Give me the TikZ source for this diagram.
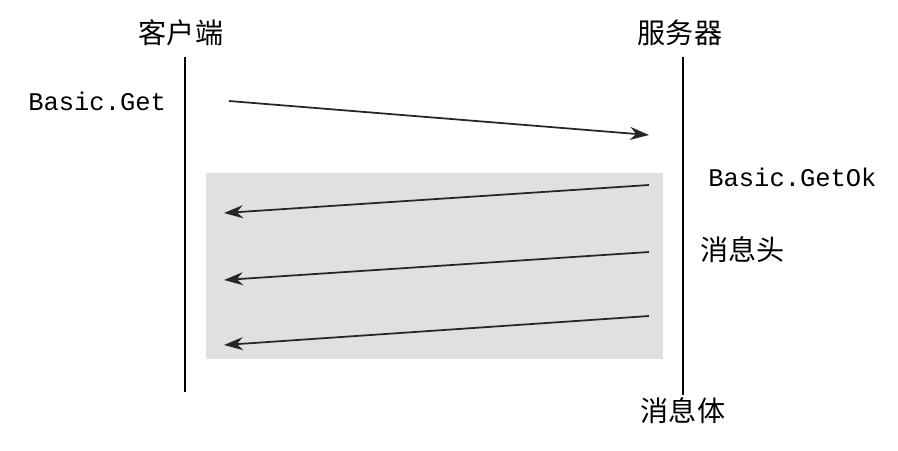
\documentclass[tikz,border=0pt]{standalone}
\usepackage{fontspec}
\setmonofont{Liberation Mono}
\newfontfamily\cjk{Noto Sans CJK SC}
\usepackage{tikz}
\usetikzlibrary{positioning, calc, arrows.meta}
\tikzset{>={Stealth[length=3.8mm, width=2.6mm]}}
\tikzset{msg/.style={->, line width=1pt, draw=black!85}}

\begin{document}
\begin{tikzpicture}
    [x=0.02cm, y=-0.02cm,
      party/.style={font=\cjk\fontsize{16}{18}\selectfont, inner sep=0pt},
      method/.style={font=\ttfamily\fontsize{14.5}{16}\selectfont, inner sep=0pt},
      lifeline/.style={line width=1pt}]

    \useasboundingbox (0,0) rectangle (898,450);

    % frame body area
    \fill[black!12] (206,173) rectangle (663,359);

    \node[party] (C) at (181,33) {客户端};
    \node[party] (S) at (680,33) {服务器};

    \coordinate (C top) at (185,57);
    \coordinate (C bot) at (185,392);
    \coordinate (S top) at (683,57);
    \draw[lifeline] (C top) -- (C bot);

    \node[party] (B) at (683,411) {消息体};
    \draw[lifeline] (S top) -- ($(B.north)+(0,-3)$);

    \node[method, anchor=west] (G) at (28,101) {Basic.Get};
    \node[method, anchor=west] (GO) at (708,177) {Basic.GetOk};
    \node[party, anchor=west] (H) at (700,250) {消息头};

    \coordinate (g1) at (229,101);
    \coordinate (g2) at (649,135);
    \draw[msg] (g1) -- (g2);

    \coordinate (o1) at (649,185);
    \coordinate (o2) at (224,213);
    \draw[msg] (o1) -- (o2);

    \coordinate (h1) at (649,252);
    \coordinate (h2) at (224,280);
    \draw[msg] (h1) -- (h2);

    \coordinate (b1) at (649,316);
    \coordinate (b2) at (224,345);
    \draw[msg] (b1) -- (b2);
  \end{tikzpicture}
\end{document}
